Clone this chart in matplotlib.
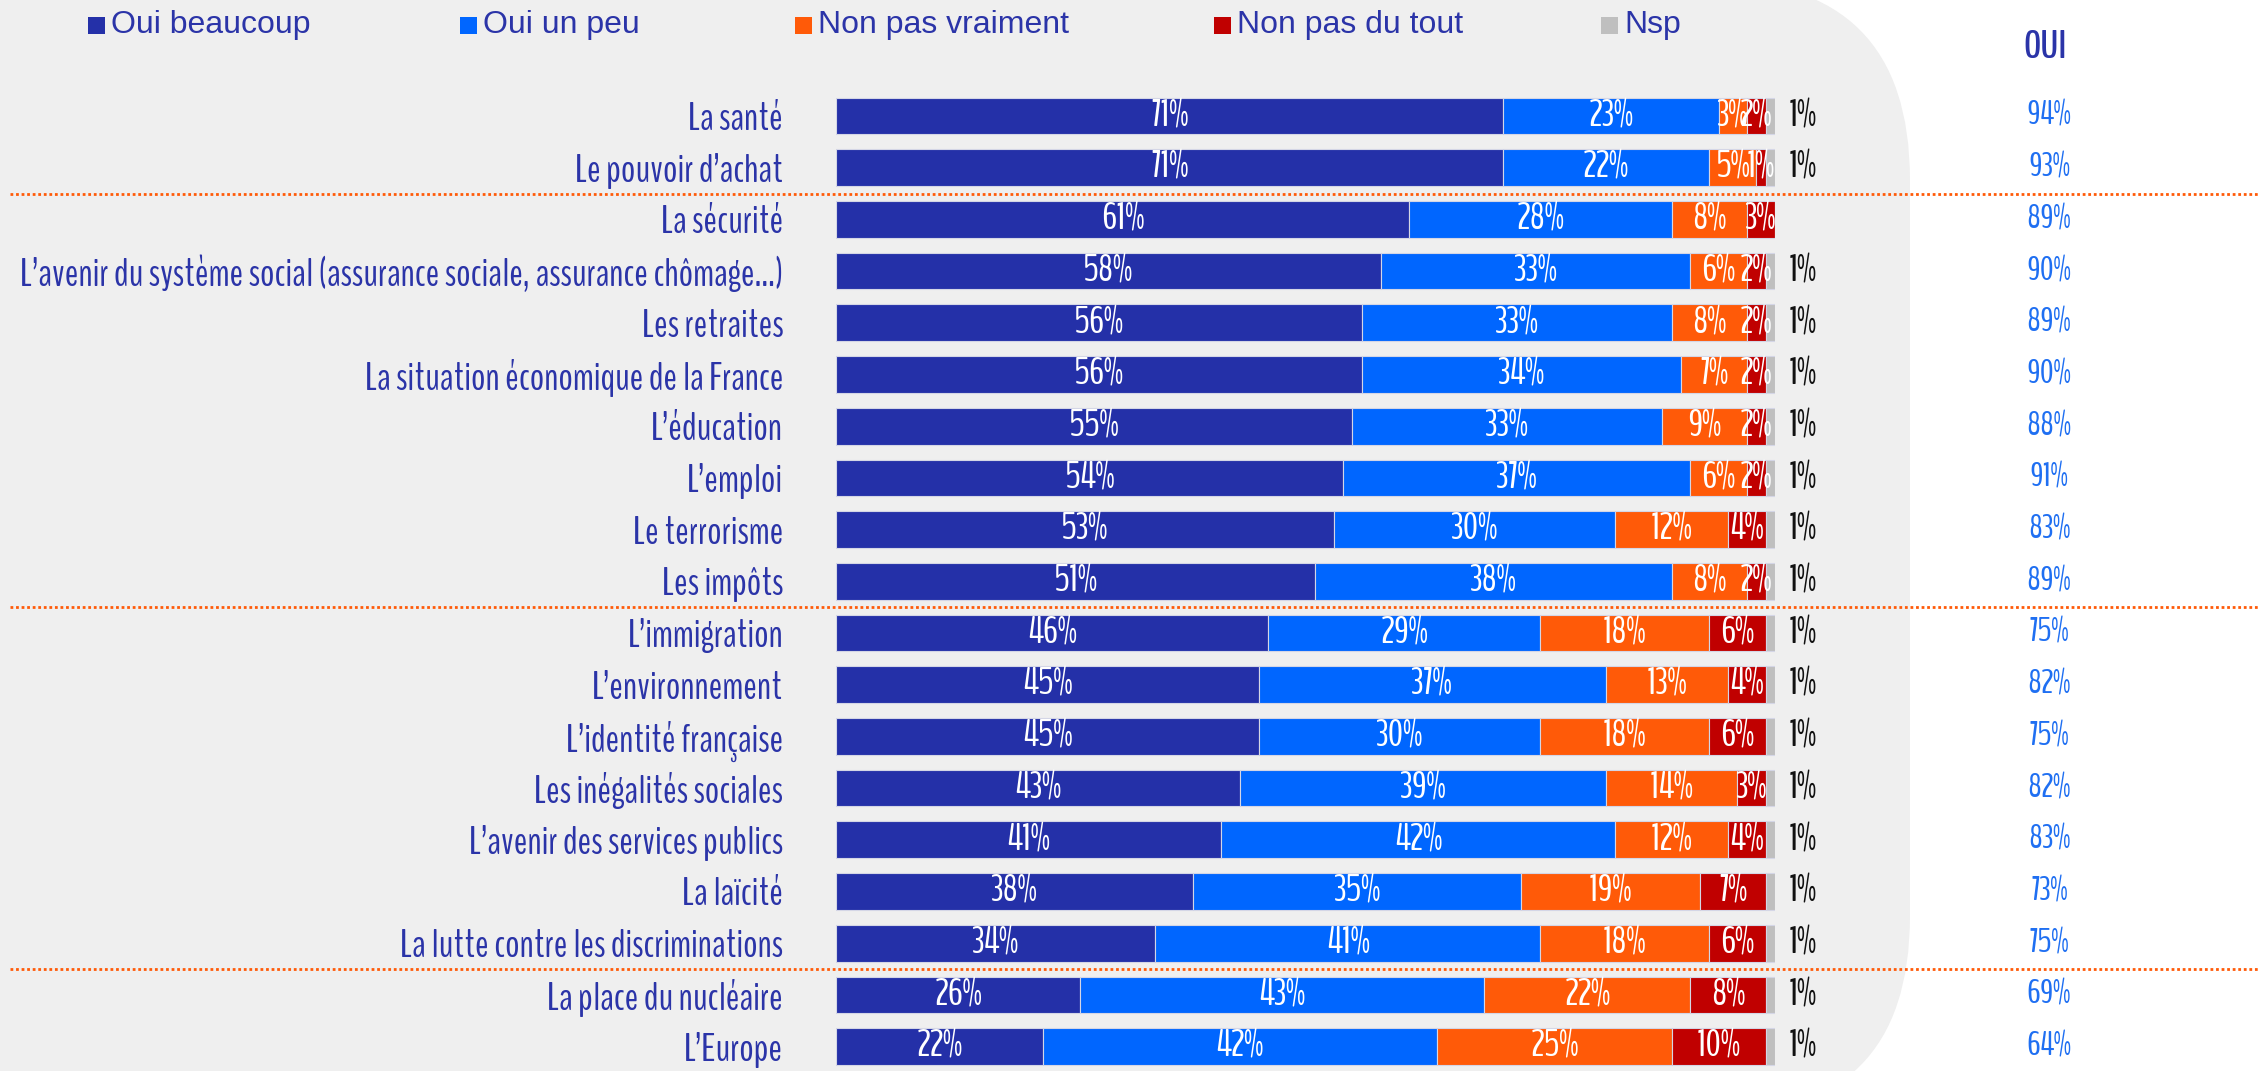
import numpy as np
import matplotlib
matplotlib.use("Agg")
import matplotlib.pyplot as plt
from matplotlib.patches import FancyBboxPatch, Rectangle
from matplotlib.transforms import blended_transform_factory


# Données (en %)
categories = [
    "La santé",
    "Le pouvoir d’achat",
    "La sécurité",
    "L’avenir du système social (assurance sociale, assurance chômage…)",
    "Les retraites",
    "La situation économique de la France",
    "L’éducation",
    "L’emploi",
    "Le terrorisme",
    "Les impôts",
    "L’immigration",
    "L’environnement",
    "L’identité française",
    "Les inégalités sociales",
    "L’avenir des services publics",
    "La laïcité",
    "La lutte contre les discriminations",
    "La place du nucléaire",
    "L’Europe",
]
oui_beaucoup = [71, 71, 61, 58, 56, 56, 55, 54, 53, 51, 46, 45, 45, 43, 41, 38, 34, 26, 22]
oui_un_peu = [23, 22, 28, 33, 33, 34, 33, 37, 30, 38, 29, 37, 30, 39, 42, 35, 41, 43, 42]
non_pas_vraiment = [3, 5, 8, 6, 8, 7, 9, 6, 12, 8, 18, 13, 18, 14, 12, 19, 18, 22, 25]
non_pas_du_tout = [2, 1, 3, 2, 2, 2, 2, 2, 4, 2, 6, 4, 6, 3, 4, 7, 6, 8, 10]
nsp = [1, 1, 0, 1, 1, 1, 1, 1, 1, 1, 1, 1, 1, 1, 1, 1, 1, 1, 1]
total_oui = [94, 93, 89, 90, 89, 90, 88, 91, 83, 89, 75, 82, 75, 82, 83, 73, 75, 69, 64]

series_names = ["Oui beaucoup", "Oui un peu", "Non pas vraiment", "Non pas du tout", "Nsp"]
series_colors = ["#2430A8", "#0066FF", "#FF5A08", "#C00000", "#BFBFBF"]
# séparateurs après ces lignes
separators = [1, 9, 16]

# Polices étroites (la première installée est prise)
narrow = ["BenchNine", "Oswald", "DejaVu Sans"]
wide = ["Liberation Sans", "DejaVu Sans"]

dark_blue = "#2B34A8"
light_blue = "#1F6FF2"

W, H = 2258, 1071
fig = plt.figure(figsize=(W / 100, H / 100), dpi=100)
fig.patch.set_facecolor("white")
renderer = fig.canvas.get_renderer()


# taille de police pour qu'un texte fasse une largeur donnée (en pixels)
def fit(s, target, **kw):
    t = fig.text(0, 0, s, fontsize=20, **kw)
    w = t.get_window_extent(renderer).width
    t.remove()
    return 20 * target / w


fs_cat = fit(max(categories, key=len), 763, family=narrow)
fs_val = fit("71%", 38, family=narrow)
fs_nsp = fs_val
fs_oui = fit("94%", 45, family=narrow)
fs_head = fit("OUI", 43, family=narrow, fontweight="bold")

# Fond gris arrondi
bg = fig.add_axes([0, 0, 1, 1], zorder=0)
bg.set_xlim(0, W)
bg.set_ylim(H, 0)
bg.axis("off")
bg.add_patch(FancyBboxPatch((-300, -20), 2210, 1136,
                            boxstyle="round,pad=0,rounding_size=200",
                            facecolor="#EFEFEF", edgecolor="none"))

# Légende
leg_x = [88, 460, 795, 1214, 1601]
for x, name, col in zip(leg_x, series_names, series_colors):
    bg.add_patch(Rectangle((x, 17), 17, 17, facecolor=col, edgecolor="none"))
    bg.text(x + 23, 25, name, color=dark_blue, fontsize=23, va="center", ha="left",
            family=wide)

# Graphique principal
ax = fig.add_axes([836 / W, -0.00135, 939 / W, 0.9172], zorder=1)
ax.patch.set_alpha(0)
y = np.arange(len(categories))
data = [oui_beaucoup, oui_un_peu, non_pas_vraiment, non_pas_du_tout, nsp]
left = np.zeros(len(categories))
for k, (vals, col) in enumerate(zip(data, series_colors)):
    vals = np.array(vals, dtype=float)
    ax.barh(y, vals, left=left, height=0.71, color=col,
            edgecolor="#D4D6E6", linewidth=0.8)
    if k < 4:
        for yi, (l, v) in enumerate(zip(left, vals)):
            if v > 0:
                ax.text(l + v / 2, yi, f"{int(v)}%", color="white", fontsize=fs_val,
                        ha="center", va="center", family=narrow)
    left += vals

# Nsp à droite des barres
for yi, v in enumerate(nsp):
    if v > 0:
        ax.annotate(f"{v}%", (100, yi), xytext=(10, 0), textcoords="offset points",
                    ha="left", va="center", fontsize=fs_nsp, color="#111111",
                    family=narrow)

ax.set_xlim(0, 100)
ax.set_ylim(len(categories) - 0.5, -0.5)
ax.set_yticks(y)
ax.set_yticklabels(categories, color=dark_blue, fontsize=fs_cat, family=narrow)
ax.tick_params(axis="y", length=0, pad=38)
ax.set_xticks([])
for s in ax.spines.values():
    s.set_visible(False)

# Colonne OUI
tr = blended_transform_factory(fig.transFigure, ax.transData)
for yi, v in enumerate(total_oui):
    ax.text(2049 / W, yi, f"{v}%", transform=tr, color=light_blue, fontsize=fs_oui,
            ha="center", va="center", family=narrow)
fig.text(2045 / W, 1 - 48 / H, "OUI", color=dark_blue, fontsize=fs_head,
         fontweight="bold", ha="center", va="center", family=narrow)

# Séparateurs pointillés
for s in separators:
    ax.plot([10 / W, 1], [s + 0.5, s + 0.5], transform=tr, color="#FF5A08",
            linestyle=(0, (1, 1)), linewidth=2, clip_on=False)

fig.savefig("out.png", dpi=100, facecolor=fig.get_facecolor())
